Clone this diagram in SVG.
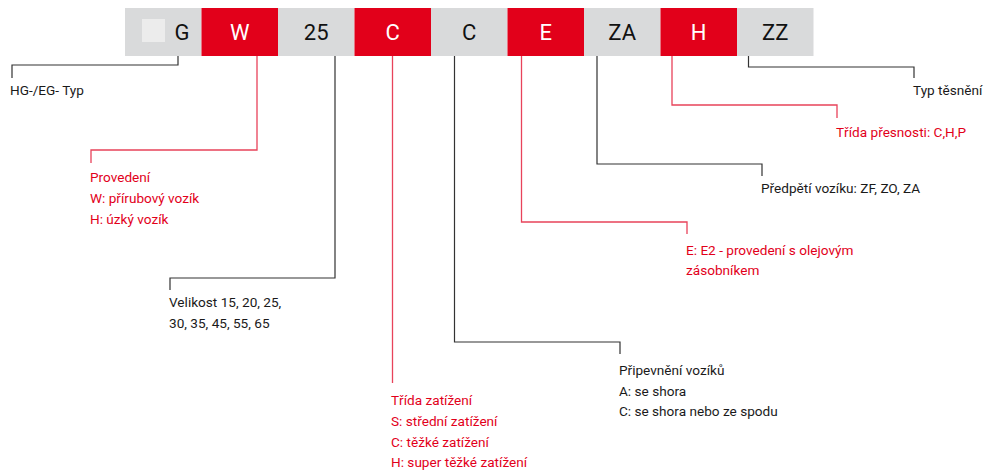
<svg xmlns="http://www.w3.org/2000/svg" width="984" height="471" viewBox="0 0 984 471">
<style>
.g{fill:#d9dadb}
.r{fill:#e2001a}
.ct{font-family:Roboto,"Liberation Sans",sans-serif;font-size:22px;text-anchor:middle;dominant-baseline:central}
.cb{fill:#111}
.cw{fill:#fff}
.t{font-family:Roboto,"Liberation Sans",sans-serif;font-size:13.6px}
.tb{fill:#1a1a1a}
.tr{fill:#e2001a}
.lb{fill:none;stroke:#333;stroke-width:1.2}
.lr{fill:none;stroke:#e8435a;stroke-width:1.3}
</style>
<rect width="984" height="471" fill="#fff"/>
<g id="cells">
<g id="cell-G"><rect class="g" x="125" y="8" width="76.5" height="48"/><rect x="142" y="19" width="23" height="23" fill="#ececec"/><text class="ct cb" x="182" y="32">G</text></g>
<g id="cell-W"><rect class="r" x="201.5" y="8" width="76.5" height="48"/><text class="ct cw" x="239.7" y="32">W</text></g>
<g id="cell-25"><rect class="g" x="278" y="8" width="76.5" height="48"/><text class="ct cb" x="316.2" y="32">25</text></g>
<g id="cell-C1"><rect class="r" x="354.5" y="8" width="76.5" height="48"/><text class="ct cw" x="392.7" y="32">C</text></g>
<g id="cell-C2"><rect class="g" x="431" y="8" width="76.5" height="48"/><text class="ct cb" x="469.2" y="32">C</text></g>
<g id="cell-E"><rect class="r" x="507.5" y="8" width="76.5" height="48"/><text class="ct cw" x="545.7" y="32">E</text></g>
<g id="cell-ZA"><rect class="g" x="584" y="8" width="76.5" height="48"/><text class="ct cb" x="622.2" y="32">ZA</text></g>
<g id="cell-H"><rect class="r" x="660.5" y="8" width="76.5" height="48"/><text class="ct cw" x="698.7" y="32">H</text></g>
<g id="cell-ZZ"><rect class="g" x="737" y="8" width="76.5" height="48"/><text class="ct cb" x="775.2" y="32">ZZ</text></g>
</g>
<g id="connectors">
<polyline class="lb" points="178,56 178,65 12,65 12,78"/>
<polyline class="lr" points="257,56 257,150 91,150 91,163"/>
<polyline class="lb" points="335,56 335,278 170,278 170,290"/>
<polyline class="lr" points="392.5,56 392.5,383"/>
<polyline class="lb" points="454.5,56 454.5,342 620,342 620,354"/>
<polyline class="lr" points="521.5,56 521.5,222 687,222 687,234"/>
<polyline class="lb" points="597,56 597,164 762,164 762,176"/>
<polyline class="lr" points="672,56 672,105 837,105 837,118"/>
<polyline class="lb" points="748.5,56 748.5,67 914,67 914,78"/>
</g>
<g id="label-typ"><text class="t tb" x="10" y="95">HG-/EG- Typ</text></g>
<g id="label-provedeni" class="t tr"><text x="90" y="182">Provedení</text><text x="90" y="203">W: přírubový vozík</text><text x="90" y="224">H: úzký vozík</text></g>
<g id="label-velikost" class="t tb"><text x="169" y="307">Velikost 15, 20, 25,</text><text x="169" y="328">30, 35, 45, 55, 65</text></g>
<g id="label-trida" class="t tr"><text x="391" y="405">Třída zatížení</text><text x="391" y="426">S: střední zatížení</text><text x="391" y="447">C: těžké zatížení</text><text x="391" y="467">H: super těžké zatížení</text></g>
<g id="label-pripevneni" class="t tb"><text x="619" y="375">Připevnění vozíků</text><text x="619" y="396">A: se shora</text><text x="619" y="416">C: se shora nebo ze spodu</text></g>
<g id="label-e" class="t tr"><text x="686" y="255">E: E2 - provedení s olejovým</text><text x="686" y="275">zásobníkem</text></g>
<g id="label-predpeti"><text class="t tb" x="761" y="193">Předpětí vozíku: ZF, ZO, ZA</text></g>
<g id="label-presnost"><text class="t tr" x="836" y="137">Třída přesnosti: C,H,P</text></g>
<g id="label-tesneni"><text class="t tb" x="913" y="95">Typ těsnění</text></g>
</svg>
